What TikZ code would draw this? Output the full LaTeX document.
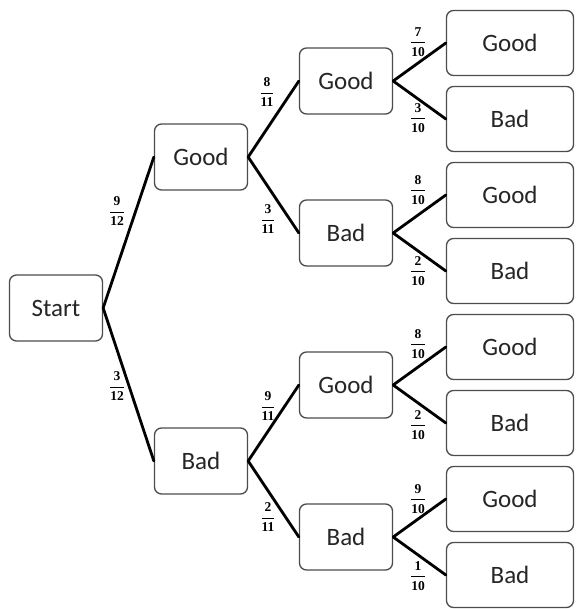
\documentclass[tikz,border=0pt]{standalone}
\usepackage{amsmath}
\usepackage{fontspec}
\setmainfont{Carlito}
\newfontfamily\fracfont{Liberation Serif}
\usetikzlibrary{positioning}

\newcommand{\prob}[2]{$\dfrac{\text{\fracfont\bfseries #1}}{\text{\fracfont\bfseries #2}}$}

\begin{document}
\begin{tikzpicture}[x=1pt, y=-1pt, line cap=round, line join=round,
	box/.style={draw=black!70, line width=1.3pt, rounded corners=7pt, fill=white,
		minimum width=93pt, minimum height=66pt, inner sep=0pt,
		font=\fontsize{25}{30}\selectfont, text=black!85},
	leaf/.style={box, minimum width=127pt, minimum height=65pt},
	branch/.style={line width=2.8pt},
	frac/.style={inner sep=0pt, font=\fontsize{13.5}{16}\selectfont}]
	\useasboundingbox (0,0) rectangle (575,609);
	% tree nodes
	\node[box] (start) at (56,308) {Start};
	\node[box] (g) at (201,157) {Good};
	\node[box] (b) at (201,461) {Bad};
	\node[box] (gg) at (346,81) {Good};
	\node[box] (gb) at (346,233) {Bad};
	\node[box] (bg) at (346,385) {Good};
	\node[box] (bb) at (346,537) {Bad};
	\foreach \n/\y/\t in {ggg/43/Good, ggb/119/Bad, gbg/195/Good, gbb/271/Bad,
		bgg/347/Good, bgb/423/Bad, bbg/499/Good, bbb/575/Bad}
		\node[leaf] (\n) at (510,\y) {\t};
	% branches
	\foreach \p/\c in {start/g, start/b, g/gg, g/gb, b/bg, b/bb,
		gg/ggg, gg/ggb, gb/gbg, gb/gbb, bg/bgg, bg/bgb, bb/bbg, bb/bbb}
		\draw[branch] (\p.east) -- (\c.west);
	% probabilities
	\foreach \n/\x/\y/\a/\d in {pg/117/211/9/12, pb/117/386/3/12,
		pgg/267/92/8/11, pgb/268/219/3/11, pbg/268/406/9/11, pbb/268/517/2/11,
		pggg/418/42/7/10, pggb/418/118/3/10, pgbg/418/190/8/10, pgbb/418/271/2/10,
		pbgg/418/344/8/10, pbgb/418/425/2/10, pbbg/418/499/9/10, pbbb/418/576/1/10}
		\node[frac] (\n) at (\x,\y) {\prob{\a}{\d}};
\end{tikzpicture}
\end{document}
